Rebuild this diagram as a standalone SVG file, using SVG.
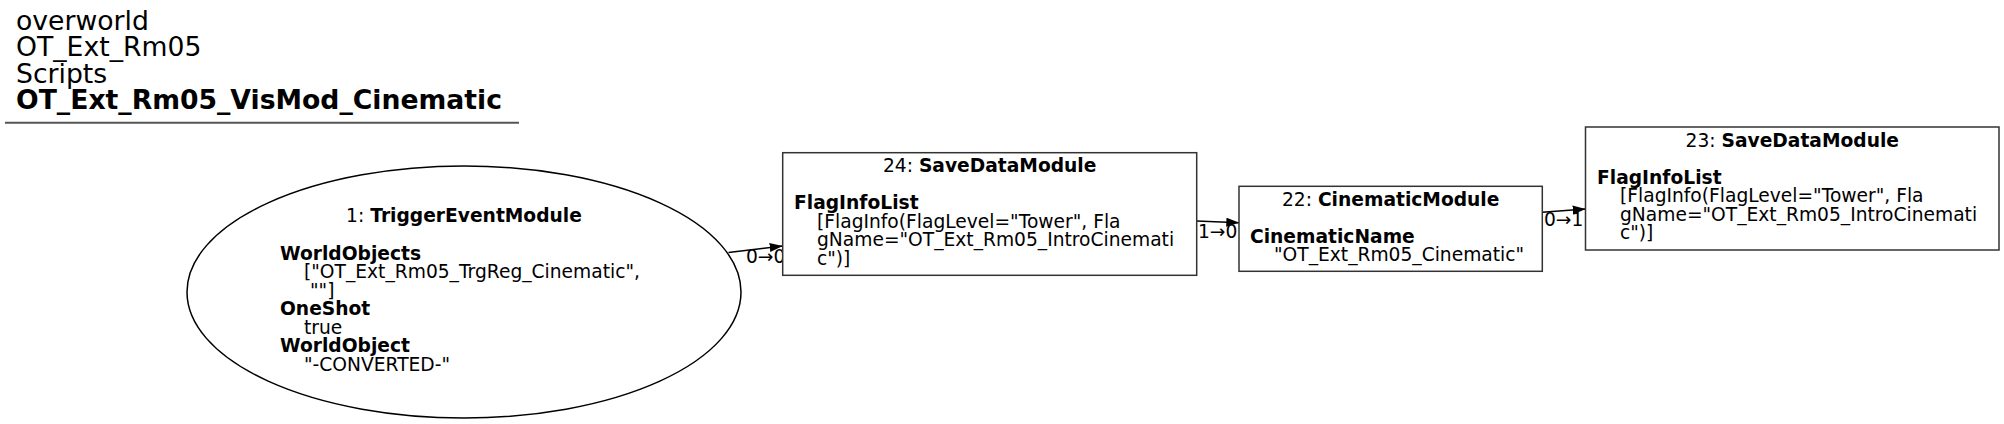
<svg xmlns="http://www.w3.org/2000/svg" width="2004" height="424" viewBox="0 0 2004 424">
<style>
text{font-family:"DejaVu Sans","Liberation Sans",sans-serif;font-size:18.67px;fill:#000}
.t{font-size:26.67px}
.b{font-weight:bold}
.node{fill:#fff;stroke:#333;stroke-width:1.5}
.ell{fill:#fff;stroke:#000;stroke-width:1.5}
.edge{stroke:#000;stroke-width:1.5;fill:none}
.mid{text-anchor:middle}
</style>
<defs>
<marker id="arr" markerUnits="userSpaceOnUse" markerWidth="14" markerHeight="10" refX="13" refY="4.5" orient="auto">
<path d="M0,0 L13,4.5 L0,9 z" fill="#000"/>
</marker>
</defs>
<rect width="2004" height="424" fill="#fff"/>
<g id="title">
<text class="t" x="16" y="29.5">overworld</text>
<text class="t" x="16" y="56">OT_Ext_Rm05</text>
<text class="t" x="16" y="82.5">Scripts</text>
<text class="t b" x="16" y="109">OT_Ext_Rm05_VisMod_Cinematic</text>
<line x1="5" y1="122.7" x2="519" y2="122.7" stroke="#555" stroke-width="2"/>
</g>
<g id="connectors">
<line class="edge" x1="728.5" y1="252.5" x2="782.7" y2="246" marker-end="url(#arr)"/>
<text x="746" y="263">0→0</text>
<line class="edge" x1="1196.7" y1="221" x2="1239.3" y2="222.7" marker-end="url(#arr)"/>
<text x="1198" y="238">1→0</text>
<line class="edge" x1="1542.3" y1="212.3" x2="1585.7" y2="209" marker-end="url(#arr)"/>
<text x="1544" y="226">0→1</text>
</g>
<g id="node1">
<ellipse class="ell" cx="464" cy="292" rx="277" ry="126"/>
<text class="mid" x="464" y="221.7">1: <tspan class="b">TriggerEventModule</tspan></text>
<text class="b" x="280" y="260">WorldObjects</text>
<text x="304" y="278.3">["OT_Ext_Rm05_TrgReg_Cinematic",</text>
<text x="310" y="296.7">""]</text>
<text class="b" x="280" y="315.2">OneShot</text>
<text x="304" y="333.5">true</text>
<text class="b" x="280" y="352">WorldObject</text>
<text x="304" y="370.5">"-CONVERTED-"</text>
</g>
<g id="node24">
<rect class="node" x="782.7" y="152.7" width="414" height="122.6"/>
<text class="mid" x="989.7" y="172.3">24: <tspan class="b">SaveDataModule</tspan></text>
<text class="b" x="794" y="209">FlagInfoList</text>
<text x="817" y="227.5">[FlagInfo(FlagLevel="Tower", Fla</text>
<text x="817" y="246">gName="OT_Ext_Rm05_IntroCinemati</text>
<text x="817" y="264.5">c")]</text>
</g>
<g id="node22">
<rect class="node" x="1239" y="186.3" width="303.3" height="85"/>
<text class="mid" x="1390.7" y="205.7">22: <tspan class="b">CinematicModule</tspan></text>
<text class="b" x="1250" y="242.7">CinematicName</text>
<text x="1274" y="261">"OT_Ext_Rm05_Cinematic"</text>
</g>
<g id="node23">
<rect class="node" x="1585.5" y="127" width="413.5" height="123"/>
<text class="mid" x="1792.3" y="146.5">23: <tspan class="b">SaveDataModule</tspan></text>
<text class="b" x="1597" y="183.5">FlagInfoList</text>
<text x="1620" y="202">[FlagInfo(FlagLevel="Tower", Fla</text>
<text x="1620" y="220.5">gName="OT_Ext_Rm05_IntroCinemati</text>
<text x="1620" y="239">c")]</text>
</g>
</svg>
